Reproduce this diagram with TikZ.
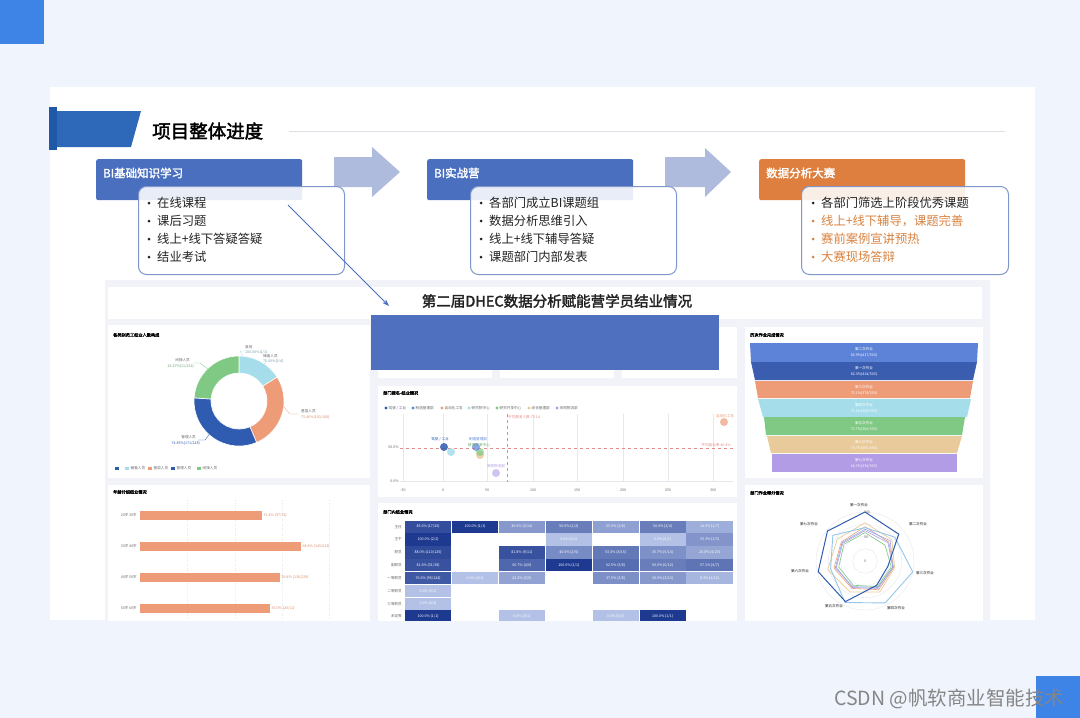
\documentclass[tikz,border=0pt]{standalone}
\usepackage{fontspec}
\setmainfont{Noto Sans CJK SC}[AutoFakeBold=2]
\usetikzlibrary{arrows.meta}
\definecolor{bg}{HTML}{F0F4FC}
\definecolor{sq}{HTML}{3D84E6}
\definecolor{hblue}{HTML}{4A6FBF}
\definecolor{horange}{HTML}{DE7F3F}
\definecolor{bborder}{HTML}{7F97CB}
\definecolor{arrowfill}{HTML}{AFBBDC}
\definecolor{banner}{HTML}{2D69B8}
\definecolor{bannerdark}{HTML}{1E58A6}
\definecolor{rulec}{HTML}{DCDFE5}
\definecolor{dashbg}{HTML}{F1F3F9}
\definecolor{cover}{HTML}{4F70BF}
\definecolor{txt}{HTML}{222222}
\definecolor{otxt}{HTML}{D9823F}
\definecolor{cyanc}{HTML}{A6DDEA}
\definecolor{orangec}{HTML}{EE9C78}
\definecolor{dbluec}{HTML}{2F5BB0}
\definecolor{greenc}{HTML}{7FC984}
\definecolor{tanc}{HTML}{E9CB9B}
\definecolor{purplec}{HTML}{B29CE6}
\definecolor{bluec}{HTML}{5C83D8}
\definecolor{navyc}{HTML}{3A5DB0}
\definecolor{heatlo}{HTML}{B3C1E6}
\definecolor{heathi}{HTML}{1E3A90}
\definecolor{markc}{HTML}{858585}
\definecolor{redl}{HTML}{E58A8A}
\definecolor{gridc}{HTML}{E6E8EE}
\definecolor{lbl}{HTML}{666666}
\newcommand\radarline[3]{%
  \draw[#1] (90:{#2*0.49pt}) \foreach \v [count=\i] in {#3} { -- ({90-\i*360/7}:{\v*0.49pt}) } -- cycle;}
\tikzset{
  hdr/.style={fill=hblue, rounded corners=2pt},
  hdrtext/.style={anchor=west, inner sep=0, text=white, font=\bfseries\fontsize{11.5}{12}\selectfont},
  cbox/.style={draw=bborder, line width=1pt, fill=white, fill opacity=0.88, rounded corners=8pt},
  item/.style={anchor=west, inner sep=0, text=txt, font=\fontsize{12.3}{13}\selectfont},
  oitem/.style={item, text=otxt},
  blockarrow/.style={fill=arrowfill},
  panel/.style={fill=white},
  ptitle/.style={anchor=west, inner sep=0, text=black, font=\bfseries\fontsize{4.2}{5}\selectfont},
  tiny/.style={inner sep=0, font=\fontsize{3.6}{4}\selectfont},
  leader/.style={line width=0.3pt},
  gridl/.style={draw=gridc, line width=0.4pt},
  ptr/.style={draw=hblue, line width=1pt, -{Stealth[length=7pt,width=5pt]}},
}
\begin{document}
\begin{tikzpicture}[x=1pt,y=-1pt]
\useasboundingbox (0,0) rectangle (1080,718);
% background
\fill[bg] (0,0) rectangle (1080,718);
\fill[sq] (0,0) rectangle (44,44);
\fill[sq] (1036,676) rectangle (1080,718);
\fill[white] (50,87) rectangle (1035,620);
% banner
\fill[banner] (57,111) -- (141,111) -- (131,147) -- (57,147) -- cycle;
\fill[bannerdark] (49,107) rectangle (57,150);
\node[anchor=west, inner sep=0, text=black, font=\bfseries\fontsize{18.5}{19}\selectfont] (title) at (152,131) {项目整体进度};
\draw[rulec, line width=1pt] (289,131) -- (1005,131);
% block arrows
\fill[blockarrow] (334,157) -- (372,157) -- (372,147) -- (400,172) -- (372,197) -- (372,187) -- (334,187) -- cycle;
\fill[blockarrow] (665,157) -- (705,157) -- (705,148) -- (731,172) -- (705,197) -- (705,187) -- (665,187) -- cycle;
% headers
\node[hdr, minimum width=206pt, minimum height=41pt, anchor=north west, inner sep=0] (h1) at (96,159) {};
\node[hdr, minimum width=206pt, minimum height=41pt, anchor=north west, inner sep=0] (h2) at (427,159) {};
\node[hdr, fill=horange, minimum width=206pt, minimum height=41pt, anchor=north west, inner sep=0] (h3) at (759,159) {};
\node[hdrtext] (h1t) at (103,173) {BI基础知识学习};
\node[hdrtext] (h2t) at (434,173) {BI实战营};
\node[hdrtext] (h3t) at (766,173) {数据分析大赛};
% content boxes
\node[cbox, minimum width=206pt, minimum height=88pt, anchor=north west, inner sep=0] (c1) at (138,186) {};
\node[cbox, minimum width=206pt, minimum height=88pt, anchor=north west, inner sep=0] (c2) at (470,186) {};
\node[cbox, minimum width=207pt, minimum height=88pt, anchor=north west, inner sep=0] (c3) at (801,186) {};
% items box 1
\foreach \y/\t [count=\k] in {203/在线课程, 221/课后习题, 239/线上+线下答疑答疑, 257/结业考试} {
  \fill[txt] (149,\y) circle (1.5pt);
  \node[item] (a\k) at (157,\y) {\t};
}
\foreach \y/\t [count=\k] in {203/各部门成立BI课题组, 221/数据分析思维引入, 239/线上+线下辅导答疑, 257/课题部门内部发表} {
  \fill[txt] (481,\y) circle (1.5pt);
  \node[item] (b\k) at (489,\y) {\t};
}
\fill[txt] (813,203) circle (1.5pt);
\node[item] (d1) at (821,203) {各部门筛选上阶段优秀课题};
\foreach \y/\t [count=\k from 2] in {221/{线上+线下辅导，课题完善}, 239/赛前案例宣讲预热, 257/大赛现场答辩} {
  \fill[otxt] (813,\y) circle (1.5pt);
  \node[oitem] (d\k) at (821,\y) {\t};
}
% ================= dashboard =================
\begin{scope}
\clip (105,280) rectangle (990,620);
\fill[dashbg] (105,280) rectangle (990,620);
\fill[white] (108,287) rectangle (982,319);
\node[inner sep=0, text=txt, font=\bfseries\fontsize{14.5}{15}\selectfont] (dtitle) at (557,301) {第二届DHEC数据分析赋能营学员结业情况};
% panels
\fill[panel] (108,325) rectangle (370,478);
\fill[panel] (108,485) rectangle (370,622);
\fill[panel] (378,327) rectangle (492,378);
\fill[panel] (500,327) rectangle (614,378);
\fill[panel] (622,327) rectangle (737,378);
\fill[panel] (378,386) rectangle (737,497);
\fill[panel] (378,503) rectangle (737,622);
\fill[panel] (745,327) rectangle (983,478);
\fill[panel] (745,485) rectangle (983,622);
\fill[cover] (371,315) rectangle (719,370);
% ---- donut panel
\node[ptitle] (p1t) at (113,335) {各类别员工结业人数构成};
\begin{scope}[shift={(239,401)}]
\foreach \a/\b/\c in {90/32/cyanc, 32/-67/orangec, -67/-184/dbluec, -184/-270/greenc} {
  \fill[\c, draw=white, line width=0.6pt] (\a:45pt) arc[start angle=\a, end angle=\b, radius=45pt] -- (\b:28pt) arc[start angle=\b, end angle=\a, radius=28pt] -- cycle;
}
\end{scope}
\draw[leader, cyanc] (243,356) -- (240,351) -- (244,351);
\node[tiny, text=lbl, anchor=west] (dl1) at (245,347) {其他};
\node[tiny, text=cyanc!70!black, anchor=west] (dl1v) at (245,352) {100.00\%(1/1)};
\draw[leader, cyanc] (262,366) -- (266,362);
\node[tiny, text=lbl, anchor=west] (dl2) at (263,356) {储备人员};
\node[tiny, text=cyanc!70!black, anchor=west] (dl2v) at (263,361) {75.00\%(3/4)};
\draw[leader, orangec] (283,406) -- (290,414) -- (299,414);
\node[tiny, text=lbl, anchor=west] (dl3) at (301,411) {基层人员};
\node[tiny, text=orangec!90!black, anchor=west] (dl3v) at (301,417) {73.46\%(130/180)};
\draw[leader, dbluec] (211,432) -- (205,440) -- (198,440);
\node[tiny, text=lbl, anchor=east] (dl4) at (196,437) {管理人员};
\node[tiny, text=dbluec, anchor=east] (dl4v) at (200,443) {74.85\%(171/228)};
\draw[leader, greenc] (208,369) -- (200,363) -- (194,363);
\node[tiny, text=lbl, anchor=east] (dl5) at (190,360) {间接人员};
\node[tiny, text=greenc!80!black, anchor=east] (dl5v) at (194,366) {26.27\%(11/212)};
\foreach \x/\c/\t [count=\k] in {125/cyanc/储备人员, 148/orangec/基层人员, 171/dbluec/管理人员, 197/greenc/间接人员} {
  \fill[\c] (\x,466.5) rectangle +(4,3);
  \node[tiny, text=lbl, anchor=west] (lg\k) at (\x+5.5,468) {\t};
}
\fill[dbluec] (115,466.5) rectangle +(4,3);
% ---- age bars
\node[ptitle] (p2t) at (113,492) {年龄分组结业情况};
\foreach \x in {187,235,282,329} { \draw[gridc, dotted, line width=0.5pt] (\x,500) -- (\x,620); }
\foreach \y/\w/\n/\v [count=\k] in {515/262/{20岁~30岁}/{51.4\% (37/72)}, 546.5/301/{30岁~40岁}/{68.4\% (145/212)}, 577.5/280/{40岁~50岁}/{59.4\% (136/229)}, 608.5/270/{50岁~60岁}/{55.0\% (20/11)}} {
  \fill[orangec] (140,\y-4.5) rectangle (\w,\y+4.5);
  \node[tiny, text=lbl, anchor=east] (ag\k) at (137,\y) {\n};
  \node[tiny, text=orangec!90!black, anchor=west] (av\k) at (\w+1.5,\y) {\v};
}
% ---- scatter
\node[ptitle] (p3t) at (383,393) {部门报名-结业情况};
\foreach \x/\c/\t [count=\k] in {386/dbluec/{驾驶 / 工业}, 413/bluec/制造管理部, 442/orangec/自动化工务, 469/cyanc/研究院中心, 497/greenc/研究开发中心, 529/tanc/综合管理部, 557/purplec/采购物流部} {
  \fill[\c] (\x,408) circle (1.6pt);
  \node[tiny, text=lbl, anchor=west] (sl\k) at (\x+2.5,408) {\t};
}
\foreach \x/\t [count=\k] in {403/-50, 443/0, 487/50, 533/100, 577/150, 623/200, 668/250, 713/300} {
  \draw[gridl] (\x,414) -- (\x,482);
  \node[tiny, text=lbl] (sx\k) at (\x,490) {\t};
}
\draw[gridl] (400,481) -- (733,481);
\node[tiny, text=lbl, anchor=east] (sy1) at (399,447) {50.0\%};
\node[tiny, text=lbl, anchor=east] (sy2) at (399,481) {0.0\%};
\draw[redl, dashed, line width=0.4pt] (507,414) -- (507,482);
\draw[redl, dashed, line width=0.4pt] (400,448.5) -- (733,448.5);
\node[tiny, text=redl, anchor=west] (avg1) at (508,417) {平均报名人数:73.14};
\node[tiny, text=redl, anchor=east] (avg2) at (731,445) {平均结业率:46.4\%};
\fill[cyanc, opacity=0.85] (451,452) circle (4pt);
\fill[dbluec, opacity=0.85] (444,447) circle (4pt);
\fill[tanc, opacity=0.85] (480,455) circle (4pt);
\fill[greenc, opacity=0.7] (480,452) circle (4pt);
\fill[bluec, opacity=0.7] (476,447) circle (4pt);
\fill[purplec, opacity=0.6] (496,473) circle (4pt);
\fill[orangec, opacity=0.7] (724,422) circle (4pt);
\node[tiny, text=dbluec] (bl1) at (440,439) {驾驶 / 工业};
\node[tiny, text=bluec] (bl2) at (478,439) {制造管理部};
\node[tiny, text=greenc!80!black] (bl3) at (479,445) {研究开发中心};
\node[tiny, text=purplec] (bl4) at (496,466) {采购物流部};
\node[tiny, text=orangec] (bl5) at (725,416) {自动化工务};
% ---- heatmap
\node[ptitle] (p4t) at (383,512) {部门内结业情况};
\foreach \y/\t [count=\k] in {527/主任, 539/主干, 552/职员, 565/副职员, 578/一等职员, 591/二等职员, 604/三等职员, 616/未定等} {
  \node[tiny, text=lbl, anchor=east] (hr\k) at (402,\y) {\t};
}
\foreach \r/\c/\p/\t in {
 1/1/85/{85.0\% (17/20)}, 1/2/100/{100.0\% (1/1)}, 1/3/30/{30.0\% (3/10)}, 1/4/50/{50.0\% (1/2)}, 1/5/25/{25.0\% (2/8)}, 1/6/50/{50.0\% (2/4)}, 1/7/14/{14.3\% (1/7)},
 2/1/100/{100.0\% (2/2)}, 2/4/0/{0.0\% (0/1)}, 2/6/0/{0.0\% (0/1)}, 2/7/33/{33.3\% (1/3)},
 3/1/88/{88.0\% (110/125)}, 3/3/82/{81.8\% (9/11)}, 3/4/40/{40.0\% (2/5)}, 3/5/53/{53.3\% (8/15)}, 3/6/36/{35.7\% (5/14)}, 3/7/20/{20.0\% (4/20)},
 4/1/82/{81.6\% (31/38)}, 4/3/67/{66.7\% (4/6)}, 4/4/100/{100.0\% (1/1)}, 4/5/62/{62.5\% (5/8)}, 4/6/50/{50.0\% (6/12)}, 4/7/57/{57.1\% (4/7)},
 5/1/77/{76.6\% (95/124)}, 5/2/0/{0.0\% (0/1)}, 5/3/22/{22.2\% (2/9)}, 5/5/37/{37.5\% (3/8)}, 5/6/30/{30.0\% (3/10)}, 5/7/8/{8.3\% (1/12)},
 6/1/0/{0.0\% (0/1)}, 7/1/0/{0.0\% (0/1)},
 8/1/100/{100.0\% (1/1)}, 8/3/0/{0.0\% (0/1)}, 8/5/0/{0.0\% (0/2)}, 8/6/100/{100.0\% (1/1)}} {
  \fill[heathi!\p!heatlo] ({405+(\c-1)*46.9},{520.5+(\r-1)*12.85}) rectangle +(46.2,12.3);
  \node[tiny, text=white] at ({405+(\c-1)*46.9+23.1},{520.5+(\r-1)*12.85+6.15}) {\t};
}
% ---- funnel
\node[ptitle] (p5t) at (750,335) {历次作业完成情况};
\foreach \yt/\yb/\lt/\rt/\lb/\rb/\c/\n/\v [count=\k] in {
 343/362/750/978/751/977/bluec/第二次作业/{82.9\%(417/503)},
 362/380/751/977/755/973/navyc/第一次作业/{82.3\%(414/503)},
 381/398/755/973/758/970/orangec/第三次作业/{75.1\%(378/503)},
 399/417/758/971/763/967/cyanc/第四次作业/{71.6\%(360/503)},
 417/435/764/965/766/962/greenc/第五次作业/{72.7\%(366/503)},
 436/453/767/962/771/957/tanc/第六次作业/{70.7\%(356/503)},
 454/472/772/957/772/957/purplec/第七次作业/{66.3\%(334/503)}} {
  \fill[\c] (\lt,\yt) -- (\rt,\yt) -- (\rb,\yb) -- (\lb,\yb) -- cycle;
  \node[tiny, text=white] (fn\k) at (864,{\yt+6}) {\n};
  \node[tiny, text=white] (fv\k) at (864,{\yt+12}) {\v};
}
% ---- radar
\node[ptitle] (p6t) at (750,493) {部门作业得分情况};
\begin{scope}[shift={(865,561)}]
\foreach \r in {12.25,24.5,36.75,49} { \draw[gridc, line width=0.4pt] (0,0) circle (\r pt); }
\radarline{tanc, line width=0.7pt}{78}{70,62,70,70,78,72}
\radarline{orangec, line width=0.6pt}{70}{62,60,65,62,65,62}
\radarline{purplec, line width=0.6pt}{62}{60,58,62,60,60,58}
\radarline{greenc, line width=0.6pt}{58}{52,55,58,55,55,55}
\radarline{bluec!70, line width=0.6pt}{65}{66,58,60,58,62,60}
\radarline{cyanc!90!blue, line width=0.9pt}{68}{78,100,95,94,72,84}
\radarline{dbluec, line width=1pt}{100}{88,48,55,92,98,98}
\end{scope}
\node[tiny, text=lbl] (ra1) at (867,512) {100};
\node[tiny, text=lbl] (ra2) at (866,537) {50};
\node[tiny, text=lbl] (ra3) at (865,561) {0};
\node[tiny, text=txt] (rl1) at (859,505) {第一次作业};
\node[tiny, text=txt] (rl2) at (918,524) {第二次作业};
\node[tiny, text=txt] (rl3) at (925,573) {第三次作业};
\node[tiny, text=txt] (rl4) at (896,608) {第四次作业};
\node[tiny, text=txt] (rl5) at (834,606) {第五次作业};
\node[tiny, text=txt] (rl6) at (800,571) {第六次作业};
\node[tiny, text=txt] (rl7) at (809,524) {第七次作业};
\end{scope}
% pointer arrow
\coordinate (pstart) at (288,205);
\coordinate (pend) at (389,306);
\draw[ptr] (pstart) -- (pend);
% watermark
\node[anchor=west, inner sep=0, text=markc, font=\fontsize{19.5}{20}\selectfont] (wm) at (834,699) {CSDN @帆软商业智能技术};
\end{tikzpicture}
\end{document}
